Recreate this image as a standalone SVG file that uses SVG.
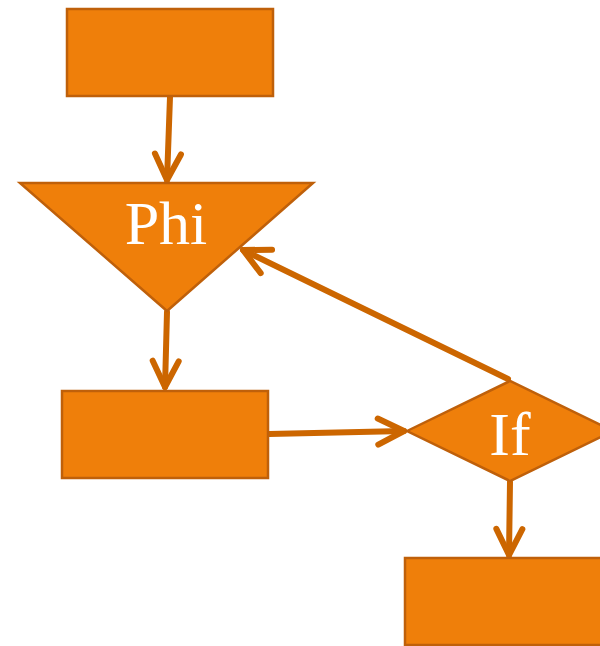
<svg xmlns="http://www.w3.org/2000/svg" width="600" height="646" viewBox="0 0 600 646">
  <style>
    .shape { fill: #EF7F0A; stroke: #BF600A; stroke-width: 2.5; }
    .edge { fill: none; stroke: #CC6600; stroke-width: 6; stroke-linecap: round; }
    .label { font-family: "Liberation Serif", "Times New Roman", Times, serif; font-size: 62px; fill: #FFFFFF; text-anchor: middle; }
  </style>
  <defs>
    <!-- open chevron arrowhead with rounded ends -->
    <marker id="open-arrow" markerUnits="userSpaceOnUse" viewBox="-40 -20 44 40" refX="0" refY="0" markerWidth="44" markerHeight="40" orient="auto" overflow="visible">
      <path d="M -26 -13 L 0 0 L -26 13" fill="none" stroke="#CC6600" stroke-width="6" stroke-linecap="round" stroke-linejoin="round"/>
    </marker>
  </defs>

  <g id="connectors">
    <line class="edge" x1="170" y1="97" x2="167" y2="180" marker-end="url(#open-arrow)"/>
    <line class="edge" x1="167" y1="312" x2="165" y2="387" marker-end="url(#open-arrow)"/>
    <line class="edge" x1="269" y1="434" x2="404" y2="431" marker-end="url(#open-arrow)"/>
    <line class="edge" x1="510" y1="482" x2="509" y2="555" marker-end="url(#open-arrow)"/>
    <line class="edge" x1="508" y1="379" x2="243" y2="250" marker-end="url(#open-arrow)"/>
  </g>

  <g id="start">
    <rect class="shape" x="67" y="9" width="206" height="87"/>
  </g>

  <g id="phi">
    <polygon class="shape" points="20,183 313,183 167,311"/>
    <text class="label" x="166" y="244">Phi</text>
  </g>

  <g id="body">
    <rect class="shape" x="62" y="391" width="206" height="87"/>
  </g>

  <g id="if">
    <polygon class="shape" points="407,431 510,381 613,431 510,481"/>
    <text class="label" x="510" y="455">If</text>
  </g>

  <g id="exit">
    <rect class="shape" x="405" y="558" width="206" height="87"/>
  </g>
</svg>
